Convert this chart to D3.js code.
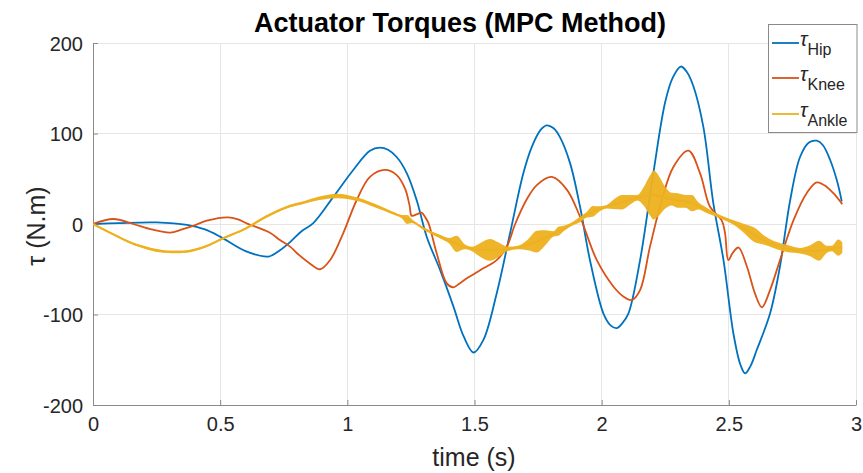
<!DOCTYPE html>
<html>
<head>
<meta charset="utf-8">
<script src="https://cdn.jsdelivr.net/npm/d3@7"></script>
<style>
  html, body { margin: 0; padding: 0; background: #fff; }
  svg { display: block; font-family: "Liberation Sans", Arial, Helvetica, sans-serif; }
</style>
</head>
<body>
<svg id="chart" width="863" height="473"></svg>
<script>
// ---------------- DATA ----------------
const title = "Actuator Torques (MPC Method)";
const xLabel = "time (s)";
const yLabel = "τ (N.m)";
const xTicks = [0, 0.5, 1, 1.5, 2, 2.5, 3];
const xTickLabels = ["0", "0.5", "1", "1.5", "2", "2.5", "3"];
const yTicks = [-200, -100, 0, 100, 200];
const yTickLabels = ["-200", "-100", "0", "100", "200"];
const seriesNames = ["Hip", "Knee", "Ankle"];

// Hip torque: time / value
const hipT = [0,0.1,0.25,0.37,0.44,0.5,0.6,0.69,0.735,0.775,0.82,0.866,0.945,1.024,1.089,1.129,1.16,1.194,1.234,1.273,1.312,1.365,1.417,1.457,1.496,1.535,1.587,1.64,1.692,1.725,1.76,1.784,1.81,1.836,1.876,1.915,1.954,2.007,2.035,2.059,2.08,2.105,2.151,2.203,2.25,2.28,2.311,2.335,2.361,2.4,2.439,2.479,2.518,2.545,2.564,2.585,2.61,2.662,2.701,2.741,2.78,2.815,2.846,2.87,2.898,2.925,2.944];
const hipV = [0,1,1.8,-1,-6,-14,-30,-36,-29,-20,-8,1,30,60,81,84.5,82,74,56,26,-14,-51,-91,-124,-142,-128,-77,-10,56,85,104,109,106,96,67,19,-40,-99,-112,-115,-110,-99,-40,56,135,162,174,168,152,107,23,-40,-121,-155,-165,-157,-139,-99,-47,26,74,90,92,87,71,48,25];

// Knee torque
const kneeT = [0,0.08,0.158,0.23,0.303,0.35,0.394,0.447,0.532,0.57,0.604,0.696,0.735,0.775,0.801,0.85,0.893,0.932,0.984,1.037,1.089,1.148,1.194,1.227,1.245,1.253,1.275,1.292,1.305,1.319,1.351,1.391,1.417,1.44,1.47,1.522,1.587,1.627,1.66,1.705,1.745,1.804,1.863,1.915,1.981,2.046,2.085,2.118,2.151,2.19,2.236,2.282,2.341,2.387,2.426,2.472,2.485,2.498,2.515,2.538,2.571,2.603,2.63,2.662,2.701,2.754,2.806,2.846,2.885,2.911,2.946];
const kneeV = [0,5.5,0,-6,-9.6,-6,-2,3.7,7.4,5,0.7,-9.6,-17.7,-25,-32,-43,-50,-40,-10,26.5,52,59.7,54,39,20,9,11,12.5,8,1,-32,-65.6,-70,-66,-60,-51,-40,-25,0,27,43,52,38,8,-40,-69,-80,-84,-73,-25,26,63,81,56,19,4,-10,-40,-32,-26,-47,-77,-92,-73,-40,4,34,46,41,34,22];

// Ankle torque: centre line and half-width of the high-frequency chatter band
const ankleT = [0,0.07,0.17,0.29,0.36,0.45,0.51,0.6,0.68,0.775,0.82,0.89,0.96,1.04,1.12,1.18,1.215,1.235,1.255,1.3,1.365,1.4,1.43,1.46,1.49,1.525,1.56,1.595,1.63,1.67,1.71,1.745,1.78,1.81,1.83,1.85,1.89,1.915,1.94,1.965,1.99,2.02,2.045,2.08,2.115,2.14,2.165,2.19,2.205,2.225,2.25,2.275,2.3,2.33,2.355,2.38,2.41,2.45,2.49,2.53,2.56,2.6,2.64,2.675,2.728,2.78,2.82,2.855,2.885,2.905,2.93,2.946];
const ankleV = [0,-10,-23,-30.6,-30.6,-24,-16,-5,8,19.9,23,28.4,31,27.3,19,12,8,5,3,-5,-14,-18.5,-22,-25,-27.5,-28.7,-28.7,-28.5,-27.5,-26,-23,-19.5,-15,-11,-8,-5,1,5,10,14,16.5,19,21.5,24,27,29,30.5,31.5,32,31,29,27.5,26,25,23,20,15.5,10,5.2,0,-5,-12,-18,-22.5,-27,-29.5,-29.5,-29.5,-28,-27,-26,-26];
const ankleSpread = [0,1,1.2,1.2,1.2,1.2,1.2,1.2,1.5,1.5,1.5,2,2.5,2,2,1.5,2,5,2,1.5,2,3,9,3,2.5,8,12,8,2.5,2,6,12,8,3,5,3,2,3,3,6,3,2,5,8,5,3,10,22,27,22,12,7,8,7,9,4,3,2,2,3,5,8,5,4,4,3,6,11,4,3,9,6];

// ---------------- CHART ----------------
const colors = ["#0072BD", "#D95319", "#EDB120"];
const textColor = "#262626";
const svg = d3.select("#chart");
const x = d3.scaleLinear().domain([0, 3]).range([93, 856]);
const y = d3.scaleLinear().domain([-200, 200]).range([405, 43]);

// grid
const grid = svg.append("g");
grid.selectAll("line.gx").data(xTicks).join("line")
  .attr("x1", d => x(d)).attr("x2", d => x(d))
  .attr("y1", y(-200)).attr("y2", y(200))
  .attr("stroke", "#e6e6e6").attr("stroke-width", 1).attr("shape-rendering", "crispEdges");
grid.selectAll("line.gy").data(yTicks).join("line")
  .attr("x1", x(0)).attr("x2", x(3))
  .attr("y1", d => y(d)).attr("y2", d => y(d))
  .attr("stroke", "#e6e6e6").attr("stroke-width", 1).attr("shape-rendering", "crispEdges");

// axes
const xAxis = d3.axisBottom(x).tickValues(xTicks).tickFormat((d, i) => xTickLabels[i]).tickSizeInner(-5).tickSizeOuter(0).tickPadding(12);
const yAxis = d3.axisLeft(y).tickValues(yTicks).tickFormat((d, i) => yTickLabels[i]).tickSizeInner(-5).tickSizeOuter(0).tickPadding(10);
const gx = svg.append("g").attr("transform", `translate(0,${y(-200)})`).call(xAxis);
const gy = svg.append("g").attr("transform", `translate(${x(0)},0)`).call(yAxis);
[gx, gy].forEach(g => {
  g.select(".domain").attr("stroke", "#8a8a8a").attr("stroke-width", 1);
  g.selectAll(".tick line").attr("stroke", "#8a8a8a");
  g.selectAll(".tick text").attr("fill", textColor).attr("font-size", 20)
    .attr("font-family", "'Liberation Sans', Arial, sans-serif");
});
gy.selectAll(".tick text").attr("dy", "0.35em");

// clip
svg.append("clipPath").attr("id", "clip").append("rect")
  .attr("x", x(0)).attr("y", y(200)).attr("width", x(3) - x(0)).attr("height", y(-200) - y(200));
const plot = svg.append("g").attr("clip-path", "url(#clip)");

const line = d3.line().x(d => x(d[0])).y(d => y(d[1])).curve(d3.curveCatmullRom.alpha(0.5));
const band = d3.area().x(d => x(d[0])).y0(d => y(d[1] - d[2])).y1(d => y(d[1] + d[2])).curve(d3.curveMonotoneX);

// hip, knee
plot.append("path").datum(hipT.map((t, i) => [t, hipV[i]]))
  .attr("d", line).attr("fill", "none").attr("stroke", colors[0]).attr("stroke-width", 1.8);
plot.append("path").datum(kneeT.map((t, i) => [t, kneeV[i]]))
  .attr("d", line).attr("fill", "none").attr("stroke", colors[1]).attr("stroke-width", 1.8);

// ankle band + line (drawn last, as in the reference)
const ankleData = ankleT.map((t, i) => [t, ankleV[i], ankleSpread[i]]);
plot.append("path").datum(ankleData)
  .attr("d", band).attr("fill", colors[2]).attr("opacity", 0.95);
plot.append("path").datum(ankleT.map((t, i) => [t, ankleV[i]]))
  .attr("d", line).attr("fill", "none").attr("stroke", colors[2]).attr("stroke-width", 2);

// title
svg.append("text").attr("x", 460).attr("y", 32).attr("text-anchor", "middle")
  .attr("font-size", 27).attr("font-weight", "bold").attr("fill", "#000").text(title);

// axis labels
svg.append("text").attr("x", 474).attr("y", 466).attr("text-anchor", "middle")
  .attr("font-size", 25).attr("fill", textColor).text(xLabel);
svg.append("text").attr("transform", `translate(45,226) rotate(-90)`).attr("text-anchor", "middle")
  .attr("font-size", 25).attr("fill", textColor).text(yLabel);

// legend
const lg = svg.append("g");
lg.append("rect").attr("x", 768.5).attr("y", 24.5).attr("width", 88.5).attr("height", 108)
  .attr("fill", "#fff").attr("stroke", "#8a8a8a").attr("stroke-width", 1);
const legendY = [43, 78, 114];
seriesNames.forEach((name, i) => {
  lg.append("line").attr("x1", 772).attr("x2", 799).attr("y1", legendY[i]).attr("y2", legendY[i])
    .attr("stroke", colors[i]).attr("stroke-width", 1.8);
  const t = lg.append("text").attr("x", 800).attr("y", legendY[i] + 2.5).attr("fill", textColor);
  t.append("tspan").attr("font-size", 20).attr("font-style", "italic").text("τ");
  t.append("tspan").attr("font-size", 16).attr("dy", 9).text(name);
});
</script>
</body>
</html>
